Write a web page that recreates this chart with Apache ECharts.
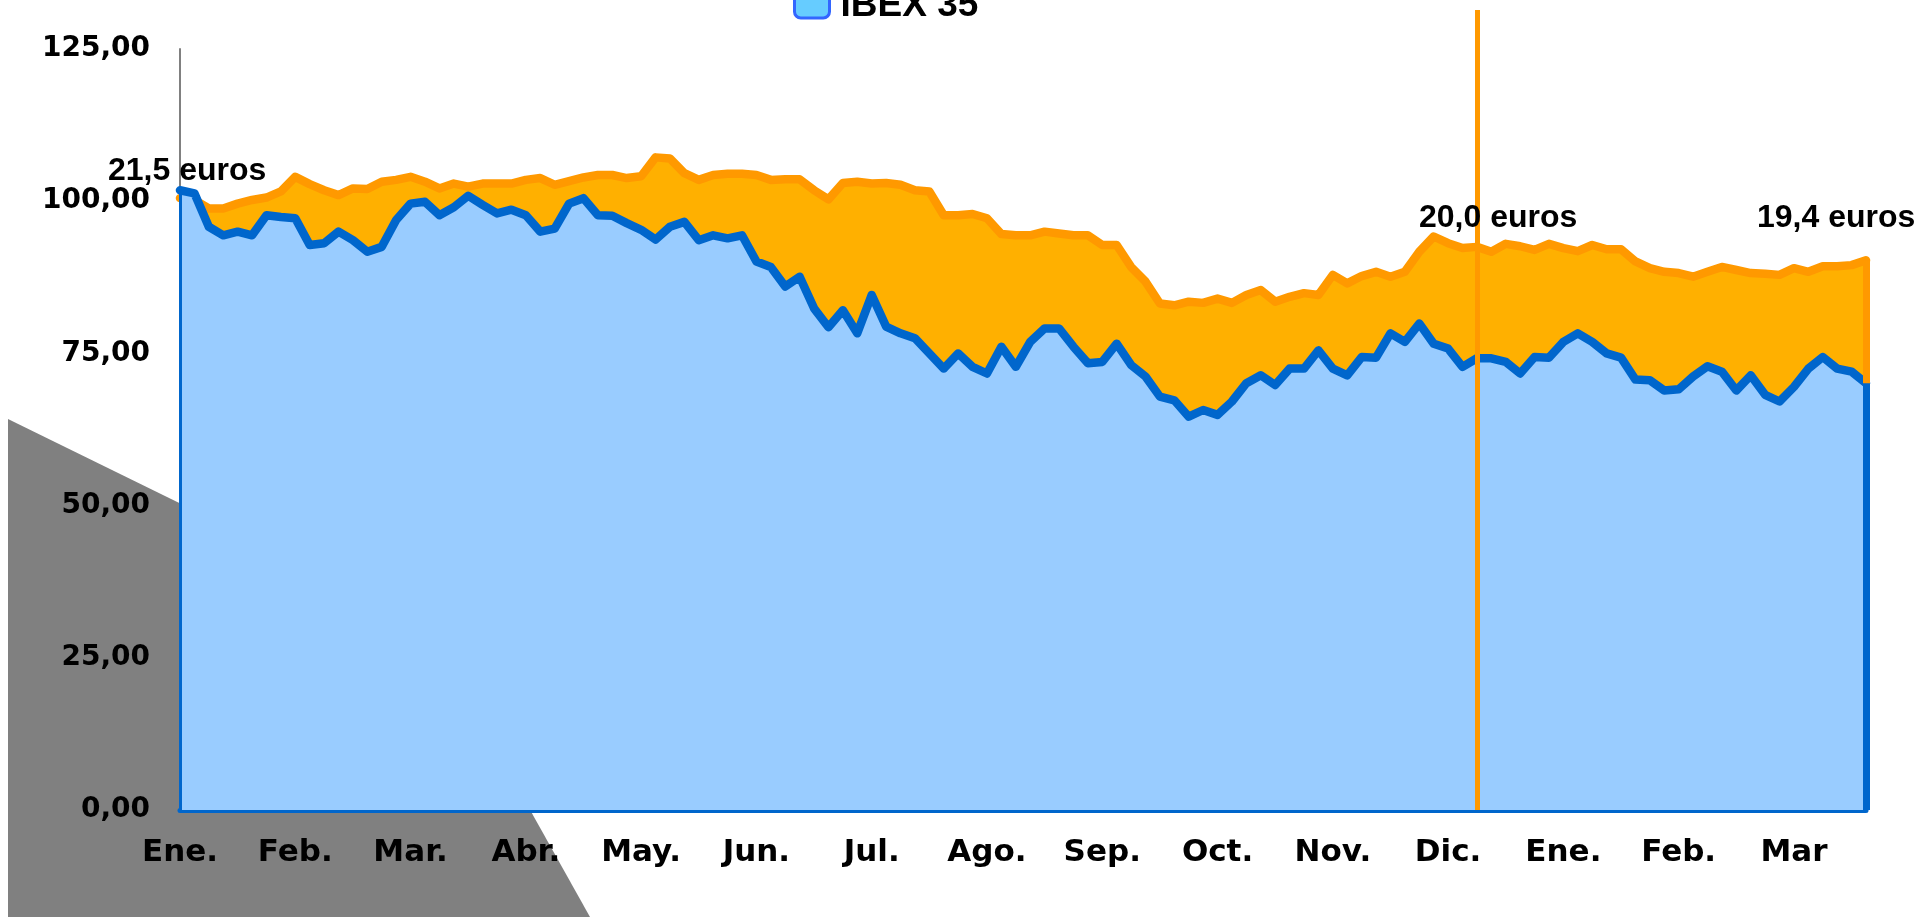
<!DOCTYPE html>
<html lang="es">
<head>
    <meta charset="UTF-8">
    <title>Cotización vs IBEX 35</title>
    <script src="https://cdn.jsdelivr.net/npm/echarts@6/dist/echarts.min.js"></script>
    <style>
        html, body { margin: 0; padding: 0; background: #fff; }
        #grafico { width: 1919px; height: 917px; }
    </style>
</head>
<body>
<div id="grafico"></div>
<script type="text/javascript">
    // etiquetas de meses (una cada 8 puntos)
    var meses = ['Ene.', 'Feb.', 'Mar.', 'Abr.', 'May.', 'Jun.', 'Jul.', 'Ago.', 'Sep.', 'Oct.', 'Nov.', 'Dic.', 'Ene.', 'Feb.', 'Mar'];
    var puntosPorMes = 8;

    // accion (base 100) - linea naranja
    var accion = [
        100.5, 100.2, 98.8, 98.8, 99.6, 100.2, 100.6, 101.6, 104.0, 102.8,
        101.8, 101.0, 102.1, 102.0, 103.2, 103.5, 104.0, 103.2, 102.1, 102.9,
        102.4, 102.9, 102.9, 102.9, 103.5, 103.8, 102.7, 103.3, 103.9, 104.3,
        104.3, 103.8, 104.1, 107.2, 107.0, 104.6, 103.5, 104.3, 104.5, 104.5,
        104.3, 103.5, 103.6, 103.6, 101.8, 100.3, 103.0, 103.2, 102.9, 103.0,
        102.7, 101.8, 101.6, 97.7, 97.7, 97.9, 97.2, 94.6, 94.4, 94.4,
        95.0, 94.7, 94.4, 94.4, 92.8, 92.8, 89.2, 86.8, 83.2, 82.9,
        83.5, 83.3, 84.0, 83.3, 84.6, 85.4, 83.5, 84.3, 84.9, 84.6,
        87.9, 86.5, 87.7, 88.4, 87.6, 88.4, 91.7, 94.2, 93.1, 92.3,
        92.5, 91.7, 93.0, 92.6, 92.0, 93.0, 92.3, 91.8, 92.8, 92.1,
        92.1, 90.1, 89.0, 88.4, 88.2, 87.6, 88.4, 89.2, 88.7, 88.2,
        88.1, 87.9, 89.0, 88.4, 89.3, 89.3, 89.5, 90.3
    ];

    // IBEX 35 (base 100) - linea azul
    var ibex = [
        101.8, 101.3, 95.8, 94.4, 95.0, 94.4, 97.7, 97.4, 97.2, 92.8,
        93.1, 95.0, 93.6, 91.7, 92.5, 96.9, 99.6, 99.9, 97.7, 99.0,
        100.9, 99.4, 98.0, 98.6, 97.7, 95.0, 95.5, 99.6, 100.5, 97.7,
        97.6, 96.4, 95.3, 93.7, 95.8, 96.6, 93.6, 94.4, 93.9, 94.4,
        90.1, 89.2, 86.0, 87.6, 82.4, 79.3, 82.1, 78.3, 84.6, 79.4,
        78.3, 77.5, 75.0, 72.5, 75.0, 72.8, 71.7, 76.1, 72.8, 76.9,
        79.1, 79.1, 76.1, 73.4, 73.6, 76.6, 73.1, 71.2, 67.9, 67.3,
        64.6, 65.7, 64.9, 67.1, 70.1, 71.4, 69.8, 72.5, 72.5, 75.5,
        72.5, 71.4, 74.4, 74.3, 78.3, 76.9, 79.9, 76.6, 75.8, 72.8,
        74.2, 74.2, 73.6, 71.7, 74.4, 74.3, 76.9, 78.3, 76.9, 75.0,
        74.3, 70.7, 70.6, 68.9, 69.1, 71.2, 72.9, 72.0, 68.9, 71.4,
        68.2, 67.1, 69.5, 72.5, 74.4, 72.5, 72.0, 70.1
    ];

    // marca vertical de diciembre (indice del punto) y su extremo superior
    var indiceDic = 90;
    var topeMarca = 131.4;

    var categorias = [];
    for (var i = 0; i < ibex.length; i++) {
        categorias.push('d' + i);
    }
    var ultimo = ibex.length - 1;

    var myChart = echarts.init(document.getElementById('grafico'));

    var option = {
        backgroundColor: '#ffffff',
        animation: false,
        grid: [
            {left: 180, right: 53, top: 49, bottom: 107, containLabel: false},
            // segunda rejilla, mas alta, solo para la marca vertical
            {left: 180, right: 53, top: 10, bottom: 107, containLabel: false}
        ],
        legend: {
            left: 788,
            top: -18,
            itemWidth: 35,
            itemHeight: 25,
            selectedMode: false,
            textStyle: {
                fontFamily: 'Liberation Sans',
                fontWeight: 'bold',
                fontSize: 37,
                color: '#000',
                padding: [0, 0, 0, 6]
            },
            data: [{
                name: 'IBEX 35',
                icon: 'roundRect',
                itemStyle: {color: '#66CCFF', borderColor: '#3366FF', borderWidth: 3}
            }]
        },
        xAxis: [
            {
                type: 'category',
                boundaryGap: false,
                data: categorias,
                axisLine: {lineStyle: {color: '#0066CC', width: 5}},
                axisTick: {show: false},
                splitLine: {show: false},
                axisLabel: {
                    interval: puntosPorMes - 1,
                    margin: 27,
                    fontFamily: 'DejaVu Sans',
                    fontWeight: 'bold',
                    fontSize: 31,
                    color: '#000',
                    formatter: function (v, idx) {
                        return meses[Math.floor(idx / puntosPorMes)] || '';
                    }
                }
            },
            {
                gridIndex: 1,
                type: 'category',
                boundaryGap: false,
                data: categorias,
                show: false
            }
        ],
        yAxis: [
            {
                type: 'value',
                min: 0,
                max: 125,
                interval: 25,
                axisLine: {show: true, lineStyle: {color: '#808080', width: 2}},
                axisTick: {show: false},
                splitLine: {show: false},
                axisLabel: {
                    margin: 30,
                    fontFamily: 'DejaVu Sans',
                    fontWeight: 'bold',
                    fontSize: 28,
                    color: '#000',
                    formatter: function (v) {
                        return v.toFixed(2).replace('.', ',');
                    }
                }
            },
            {
                gridIndex: 1,
                type: 'value',
                min: 0,
                max: topeMarca,
                show: false
            }
        ],
        graphic: [
            {
                type: 'polygon',
                z: -10,
                silent: true,
                shape: {points: [[8, 419], [426, 624], [590, 917], [8, 917]]},
                style: {fill: '#808080'}
            },
            {
                type: 'text', z: 100, x: 108, y: 171,
                style: {text: '21,5 euros', font: 'bold 32px "Liberation Sans"', fill: '#000', textVerticalAlign: 'middle'}
            },
            {
                type: 'text', z: 100, x: 1419, y: 218,
                style: {text: '20,0 euros', font: 'bold 32px "Liberation Sans"', fill: '#000', textVerticalAlign: 'middle'}
            },
            {
                type: 'text', z: 100, x: 1757, y: 218,
                style: {text: '19,4 euros', font: 'bold 32px "Liberation Sans"', fill: '#000', textVerticalAlign: 'middle'}
            }
        ],
        series: [
            {
                name: 'Acción',
                type: 'line',
                data: accion,
                symbol: 'none',
                z: 2,
                lineStyle: {color: '#FF9900', width: 8.5, join: 'round', cap: 'round'},
                itemStyle: {color: '#FF9900'},
                areaStyle: {color: '#FFB000', opacity: 1},
                markLine: {
                    silent: true,
                    symbol: ['none', 'none'],
                    label: {show: false},
                    lineStyle: {color: '#FF9900', width: 7, type: 'solid'},
                    data: [
                        [{coord: [ultimo, 0]}, {coord: [ultimo, accion[ultimo]]}]
                    ]
                }
            },
            {
                name: 'IBEX 35',
                type: 'line',
                data: ibex,
                symbol: 'none',
                z: 3,
                lineStyle: {color: '#0066CC', width: 8.5, join: 'round', cap: 'round'},
                itemStyle: {color: '#0066CC'},
                areaStyle: {color: '#99CCFF', opacity: 1},
                markLine: {
                    silent: true,
                    symbol: ['none', 'none'],
                    label: {show: false},
                    lineStyle: {color: '#0066CC', width: 7, type: 'solid'},
                    data: [
                        [{coord: [0, 0], lineStyle: {width: 3}}, {coord: [0, ibex[0]]}],
                        [{coord: [ultimo, 0]}, {coord: [ultimo, ibex[ultimo]]}]
                    ]
                }
            },
            {
                name: 'Marca',
                type: 'line',
                xAxisIndex: 1,
                yAxisIndex: 1,
                data: [],
                z: 5,
                markLine: {
                    silent: true,
                    symbol: ['none', 'none'],
                    label: {show: false},
                    lineStyle: {color: '#FF9900', width: 5, type: 'solid'},
                    data: [
                        [{coord: [indiceDic, 0]}, {coord: [indiceDic, topeMarca]}]
                    ]
                }
            }
        ]
    };

    myChart.setOption(option);
</script>
</body>
</html>
